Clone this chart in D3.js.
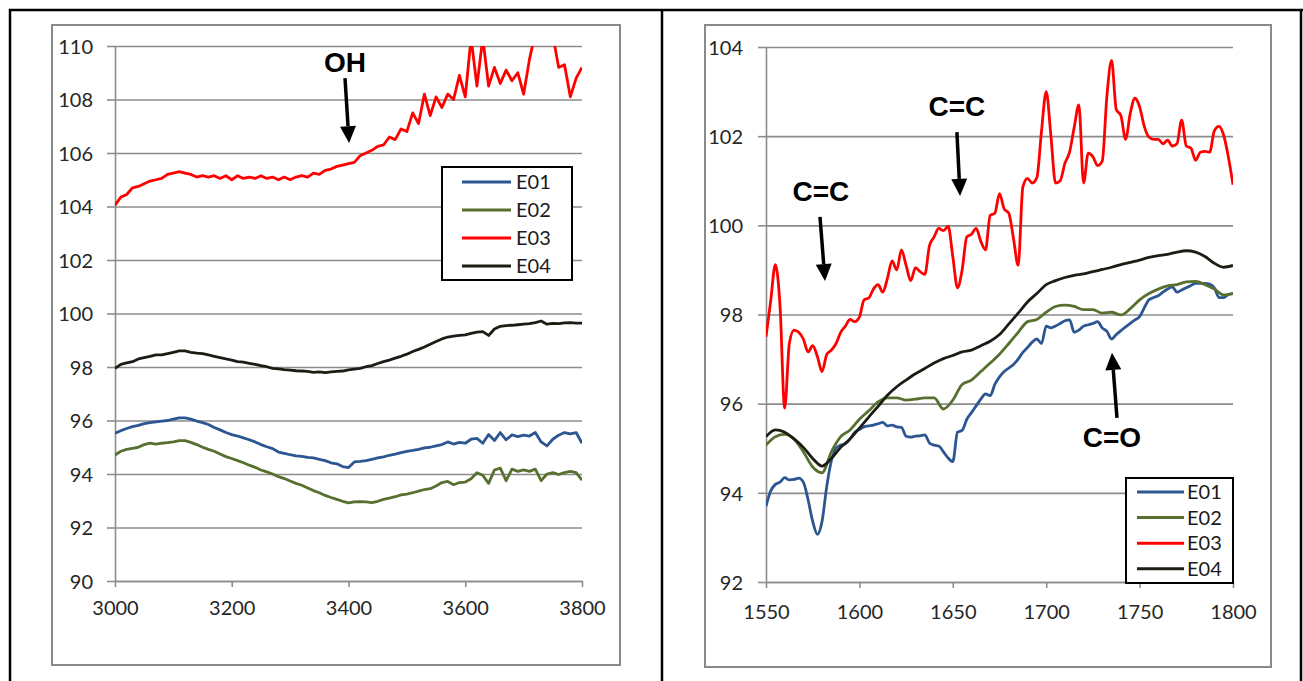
<!DOCTYPE html>
<html>
<head>
<meta charset="utf-8">
<script src="https://cdn.jsdelivr.net/npm/d3@7"></script>
<style>
  body { margin: 0; background: #fff; }
  svg { display: block; }
  .tick text { font-family: Lato, sans-serif; font-size: 20px; fill: #262626; }
</style>
</head>
<body>
<svg id="chart"></svg>
<script>
const W = 1303, H = 681;

// ---- data: left panel (3000-3800, step 10) ----
const leftX = d3.range(3000, 3801, 10);
const leftE01 = [
  95.52, 95.62, 95.7, 95.77, 95.82, 95.88, 95.92, 95.95, 95.98, 96.0,
  96.05, 96.1, 96.1, 96.05, 95.98, 95.92, 95.85, 95.74, 95.65, 95.55,
  95.47, 95.42, 95.35, 95.28, 95.2, 95.1, 95.02, 94.95, 94.82, 94.77,
  94.72, 94.68, 94.66, 94.62, 94.6, 94.55, 94.5, 94.42, 94.38, 94.28,
  94.24, 94.45, 94.47, 94.5, 94.55, 94.6, 94.64, 94.7, 94.74, 94.8,
  94.85, 94.88, 94.92, 94.98, 95.0, 95.05, 95.1, 95.2, 95.12, 95.18,
  95.15, 95.3, 95.33, 95.15, 95.48, 95.25, 95.55, 95.28, 95.46, 95.4,
  95.45, 95.42, 95.55, 95.2, 95.05, 95.3, 95.45, 95.55, 95.5, 95.55,
  95.15];
const leftE02 = [
  94.71, 94.85, 94.92, 94.96, 95.0, 95.1, 95.15, 95.12, 95.15, 95.17,
  95.2, 95.25, 95.25, 95.18, 95.1, 95.0, 94.92, 94.85, 94.75, 94.65,
  94.58, 94.5, 94.42, 94.33, 94.25, 94.15, 94.08, 94.0, 93.9, 93.83,
  93.74, 93.65, 93.58, 93.48, 93.38, 93.3, 93.2, 93.12, 93.05, 92.98,
  92.92, 92.96, 92.97, 92.96, 92.93, 92.98, 93.05, 93.1, 93.15, 93.22,
  93.25, 93.3, 93.36, 93.42, 93.45, 93.55, 93.68, 93.72, 93.6, 93.68,
  93.7, 93.82, 94.05, 93.95, 93.65, 94.15, 94.22, 93.75, 94.18, 94.1,
  94.15, 94.1, 94.18, 93.75, 94.0, 94.05, 93.98, 94.05, 94.1, 94.05,
  93.77];
const leftE03 = [
  104.05, 104.35, 104.45, 104.7, 104.75, 104.85, 104.95, 105.0, 105.05, 105.2,
  105.25, 105.3, 105.25, 105.2, 105.1, 105.15, 105.1, 105.15, 105.05, 105.15,
  105.0, 105.15, 105.05, 105.1, 105.05, 105.15, 105.05, 105.1, 105.0, 105.1,
  105.0, 105.1, 105.15, 105.1, 105.25, 105.2, 105.35, 105.4, 105.5, 105.55,
  105.6, 105.65, 105.9, 106.0, 106.1, 106.25, 106.3, 106.6, 106.5, 106.9,
  106.8, 107.5, 107.1, 108.2, 107.4, 108.1, 107.7, 108.2, 108.0, 108.9,
  108.1, 110.3, 108.5, 110.3, 108.5, 109.2, 108.6, 109.1, 108.7, 109.0,
  108.2, 109.5, 110.5, 111.0, 111.0, 110.4, 109.2, 109.3, 108.1, 108.8,
  109.2];
const leftE04 = [
  97.95, 98.1, 98.15, 98.2, 98.3, 98.35, 98.4, 98.45, 98.45, 98.5,
  98.55, 98.6, 98.6, 98.55, 98.52, 98.5, 98.45, 98.4, 98.35, 98.3,
  98.26, 98.2, 98.18, 98.14, 98.1, 98.05, 98.01, 97.95, 97.93, 97.9,
  97.88, 97.86, 97.85, 97.84, 97.8, 97.82, 97.79, 97.82, 97.84, 97.85,
  97.89, 97.92, 97.95, 98.01, 98.05, 98.13, 98.2, 98.26, 98.33, 98.4,
  98.48, 98.58, 98.66, 98.75, 98.85, 98.95, 99.05, 99.12, 99.15, 99.18,
  99.2, 99.26, 99.3, 99.32, 99.18, 99.42, 99.52, 99.55, 99.56, 99.58,
  99.6, 99.62, 99.66, 99.72, 99.6, 99.63, 99.62, 99.65, 99.66, 99.64,
  99.64];

// ---- data: right panel (1550-1800) ----
const rightXFine = d3.range(1550, 1800.1, 2.5);
const rightXCoarse = d3.range(1550, 1801, 5);
const rightE01 = [
  93.7, 94.04, 94.19, 94.24, 94.34, 94.29, 94.3, 94.33, 94.24, 93.85,
  93.36, 93.07, 93.36, 94.14, 94.72, 95.0, 95.07, 95.1, 95.21, 95.36,
  95.42, 95.48, 95.5, 95.52, 95.55, 95.58, 95.5, 95.52, 95.48, 95.47,
  95.27, 95.25, 95.27, 95.28, 95.3, 95.12, 95.07, 95.05, 94.92, 94.78,
  94.7, 95.36, 95.4, 95.65, 95.8, 95.95, 96.1, 96.22, 96.18, 96.43,
  96.6, 96.72, 96.8, 96.88, 97.0, 97.15, 97.26, 97.38, 97.45, 97.35,
  97.74, 97.7, 97.74, 97.8, 97.86, 97.88, 97.6, 97.65, 97.74, 97.77,
  97.8, 97.84, 97.7, 97.62, 97.45, 97.55, 97.64, 97.72, 97.8, 97.88,
  97.95, 98.15, 98.33, 98.38, 98.42, 98.5, 98.57, 98.62, 98.5, 98.55,
  98.6, 98.65, 98.7, 98.7, 98.7, 98.68, 98.6, 98.38, 98.38, 98.45,
  98.47];
const rightE02 = [
  95.07, 95.26, 95.31, 95.21, 94.92, 94.58, 94.45, 94.92, 95.26, 95.41,
  95.65, 95.84, 96.04, 96.13, 96.13, 96.08, 96.1, 96.13, 96.13, 95.88,
  96.08, 96.43, 96.53, 96.72, 96.91, 97.11, 97.35, 97.6, 97.84, 97.89,
  98.05, 98.18, 98.21, 98.18, 98.11, 98.11, 98.03, 98.05, 97.99, 98.13,
  98.33, 98.47, 98.57, 98.64, 98.67, 98.73, 98.74, 98.67, 98.57, 98.44,
  98.47];
const rightE03 = [
  97.5, 98.3, 99.12, 98.2, 95.9, 97.35, 97.65, 97.6, 97.45, 97.16,
  97.3, 97.06, 96.72, 97.1, 97.2, 97.35, 97.6, 97.74, 97.89, 97.84,
  97.94, 98.33, 98.37, 98.57, 98.67, 98.5, 98.81, 99.2, 99.0, 99.45,
  99.1, 98.76, 99.05, 98.96, 98.9, 99.54, 99.74, 99.93, 99.88, 99.98,
  99.3, 98.6, 99.0, 99.74, 99.8, 99.93, 99.64, 99.45, 100.22, 100.27,
  100.71, 100.37, 100.27, 99.7, 99.1, 100.86, 101.05, 100.95, 101.07, 102.12,
  103.0, 102.02, 100.95, 101.0, 101.39, 101.64, 102.2, 102.7, 100.95, 101.62,
  101.54, 101.34, 101.44, 102.9, 103.7, 102.6, 102.46, 101.93, 102.51, 102.85,
  102.66, 102.22, 101.98, 101.93, 101.93, 101.83, 101.91, 101.78, 101.83, 102.36,
  101.78, 101.73, 101.46, 101.64, 101.66, 101.64, 102.12, 102.22, 102.02, 101.54,
  100.91];
const rightE04 = [
  95.26, 95.41, 95.36, 95.21, 95.02, 94.77, 94.6, 94.77, 95.02, 95.21,
  95.45, 95.7, 95.94, 96.19, 96.38, 96.53, 96.67, 96.79, 96.91, 97.01,
  97.08, 97.16, 97.2, 97.3, 97.4, 97.55, 97.79, 98.03, 98.28, 98.47,
  98.67, 98.76, 98.83, 98.88, 98.91, 98.96, 99.01, 99.06, 99.12, 99.17,
  99.22, 99.28, 99.32, 99.35, 99.4, 99.43, 99.4, 99.3, 99.15, 99.06,
  99.1];

const seriesNames = ['E01', 'E02', 'E03', 'E04'];
const seriesColors = ['#2b5691', '#57702f', '#ff0000', '#1c1c14'];

const leftXTicks = [3000, 3200, 3400, 3600, 3800];
const leftYTicks = [90, 92, 94, 96, 98, 100, 102, 104, 106, 108, 110];
const rightXTicks = [1550, 1600, 1650, 1700, 1750, 1800];
const rightYTicks = [92, 94, 96, 98, 100, 102, 104];

// annotations in data units: label, text x, text baseline y, arrow start, arrow tip
const leftNotes = [
  { label: 'OH', tx: 3394, ty: 109.03, x0: 3394, y0: 108.8, x1: 3401, y1: 106.37 }
];
const rightNotes = [
  { label: 'C=C', tx: 1652.2, ty: 102.45, x0: 1652.2, y0: 102.09, x1: 1653.9, y1: 100.66 },
  { label: 'C=C', tx: 1579.4, ty: 100.55, x0: 1578.9, y0: 100.19, x1: 1581.6, y1: 98.75 },
  { label: 'C=O', tx: 1735.2, ty: 95.03, x0: 1737.9, y0: 95.68, x1: 1735.2, y1: 97.14 }
];

const panels = [
  {
    id: 'left',
    frame: { x0: 52, y0: 25, x1: 620, y1: 665 },
    plot: { left: 115, right: 582, top: 46, bottom: 581 },
    xDomain: [3000, 3800], yDomain: [90, 110],
    xTicks: leftXTicks, yTicks: leftYTicks,
    xs: [leftX, leftX, leftX, leftX],
    ys: [leftE01, leftE02, leftE03, leftE04],
    curve: d3.curveLinear,
    xLabelTop: 601, yLabelEnd: 93,
    legend: { x: 442, y: 167, w: 130, h: 113, first: 15, row: 28, l0: 20, l1: 69, t: 74 },
    notes: leftNotes
  },
  {
    id: 'right',
    frame: { x0: 705, y0: 25, x1: 1271, y1: 667 },
    plot: { left: 766, right: 1233, top: 47, bottom: 582 },
    xDomain: [1550, 1800], yDomain: [92, 104],
    xTicks: rightXTicks, yTicks: rightYTicks,
    xs: [rightXFine, rightXCoarse, rightXFine, rightXCoarse],
    ys: [rightE01, rightE02, rightE03, rightE04],
    curve: d3.curveMonotoneX,
    xLabelTop: 605, yLabelEnd: 743,
    legend: { x: 1126, y: 478, w: 107, h: 105, first: 14, row: 25.6, l0: 11, l1: 58, t: 61 },
    notes: rightNotes
  }
];

const svg = d3.select('#chart').attr('width', W).attr('height', H);
svg.append('rect').attr('width', W).attr('height', H).attr('fill', '#fff');

// outer table frame
const frameLines = [[9, 10, W, 10], [10, 9, 10, H], [662, 9, 662, H], [1301, 9, 1301, H]];
svg.selectAll('line.outer').data(frameLines).enter().append('line')
  .attr('class', 'outer')
  .attr('x1', d => d[0]).attr('y1', d => d[1]).attr('x2', d => d[2]).attr('y2', d => d[3])
  .attr('stroke', '#000').attr('stroke-width', 2.5);

panels.forEach(p => {
  const g = svg.append('g');
  const pw = p.plot.right - p.plot.left;

  // chart area border
  g.append('rect')
    .attr('x', p.frame.x0).attr('y', p.frame.y0)
    .attr('width', p.frame.x1 - p.frame.x0).attr('height', p.frame.y1 - p.frame.y0)
    .attr('fill', '#fff').attr('stroke', '#8a8a8a').attr('stroke-width', 2);

  const x = d3.scaleLinear().domain(p.xDomain).range([p.plot.left, p.plot.right]);
  const y = d3.scaleLinear().domain(p.yDomain).range([p.plot.bottom, p.plot.top]);

  // gridlines
  g.append('g')
    .attr('transform', `translate(${p.plot.left},0)`)
    .call(d3.axisLeft(y).tickValues(p.yTicks).tickSize(-pw).tickFormat(''))
    .call(a => a.select('.domain').remove())
    .call(a => a.selectAll('line').attr('stroke', '#8c8c8c').attr('stroke-width', 1.6));

  // y axis
  g.append('g')
    .attr('transform', `translate(${p.plot.left},0)`)
    .call(d3.axisLeft(y).tickValues(p.yTicks).tickSize(8).tickSizeOuter(0).tickFormat(d3.format('d')))
    .call(a => a.select('.domain').attr('stroke', '#8c8c8c').attr('stroke-width', 1.6))
    .call(a => a.selectAll('line').attr('stroke', '#8c8c8c').attr('stroke-width', 1.6))
    .call(a => a.selectAll('text').attr('x', p.yLabelEnd - p.plot.left).attr('dy', '0.36em'));

  // x axis
  g.append('g')
    .attr('transform', `translate(0,${p.plot.bottom})`)
    .call(d3.axisBottom(x).tickValues(p.xTicks).tickSize(6).tickSizeOuter(0).tickFormat(d3.format('d')))
    .call(a => a.select('.domain').attr('stroke', '#8c8c8c').attr('stroke-width', 1.6))
    .call(a => a.selectAll('line').attr('stroke', '#8c8c8c').attr('stroke-width', 1.6))
    .call(a => a.selectAll('text').attr('y', p.xLabelTop - p.plot.bottom).attr('dy', '0.72em'));

  // clip
  const clipId = 'clip-' + p.id;
  svg.append('clipPath').attr('id', clipId).append('rect')
    .attr('x', p.plot.left).attr('y', p.plot.top)
    .attr('width', pw).attr('height', p.plot.bottom - p.plot.top);

  const line = d3.line()
    .x(d => x(d[0]))
    .y(d => y(d[1]))
    .curve(p.curve);

  const lines = g.append('g').attr('clip-path', `url(#${clipId})`);
  seriesNames.forEach((name, i) => {
    const pts = p.xs[i].map((v, k) => [v, p.ys[i][k]]).filter(d => d[1] != null);
    lines.append('path')
      .datum(pts)
      .attr('fill', 'none')
      .attr('stroke', seriesColors[i])
      .attr('stroke-width', 2.8)
      .attr('stroke-linejoin', 'round')
      .attr('d', line);
  });

  // legend
  const L = p.legend;
  const leg = g.append('g').attr('transform', `translate(${L.x},${L.y})`);
  leg.append('rect').attr('width', L.w).attr('height', L.h)
    .attr('fill', '#fff').attr('stroke', '#000').attr('stroke-width', 2);
  seriesNames.forEach((name, i) => {
    const cy = L.first + i * L.row;
    leg.append('line')
      .attr('x1', L.l0).attr('x2', L.l1).attr('y1', cy).attr('y2', cy)
      .attr('stroke', seriesColors[i]).attr('stroke-width', 3);
    leg.append('text')
      .attr('x', L.t).attr('y', cy).attr('dy', '0.36em')
      .attr('font-family', 'Lato, sans-serif').attr('font-size', 20).attr('fill', '#1a1a1a')
      .text(name);
  });

  // annotations with arrows
  p.notes.forEach(n => {
    g.append('text')
      .attr('x', x(n.tx)).attr('y', y(n.ty))
      .attr('text-anchor', 'middle')
      .attr('font-family', '"Liberation Sans", Arial, sans-serif')
      .attr('font-weight', 'bold').attr('font-size', 28).attr('fill', '#000')
      .text(n.label);
    const ax0 = x(n.x0), ay0 = y(n.y0), ax1 = x(n.x1), ay1 = y(n.y1);
    const len = Math.hypot(ax1 - ax0, ay1 - ay0);
    const ux = (ax1 - ax0) / len, uy = (ay1 - ay0) / len;
    const headL = 17, headW = 8;
    const bx = ax1 - ux * headL, by = ay1 - uy * headL;
    g.append('line')
      .attr('x1', ax0).attr('y1', ay0).attr('x2', bx).attr('y2', by)
      .attr('stroke', '#000').attr('stroke-width', 3.5);
    g.append('path')
      .attr('d', `M${ax1},${ay1}L${bx - uy * headW},${by + ux * headW}L${bx + uy * headW},${by - ux * headW}Z`)
      .attr('fill', '#000');
  });
});
</script>
</body>
</html>
